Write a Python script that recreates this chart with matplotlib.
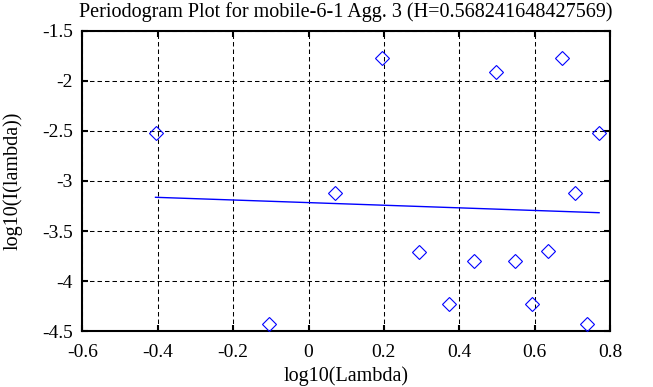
import numpy as np
import matplotlib
matplotlib.use("Agg")
import matplotlib.pyplot as plt

# periodogram points (log10 lambda, log10 I(lambda))
log_lambda = [-0.406, -0.104, 0.071, 0.196, 0.294, 0.372, 0.438, 0.497,
              0.547, 0.594, 0.635, 0.672, 0.708, 0.739, 0.770]
log_intensity = [-2.517, -4.427, -3.117, -1.767, -3.707, -4.23, -3.803, -1.913,
                 -3.803, -4.23, -3.703, -1.767, -3.117, -4.43, -2.517]

# least squares fit line, end points
fit_x = [-0.406, 0.771]
fit_y = [-3.163, -3.317]

title = "Periodogram Plot for mobile-6-1 Agg. 3 (H=0.568241648427569)"
x_ticks = [-0.6, -0.4, -0.2, 0, 0.2, 0.4, 0.6, 0.8]
x_tick_labels = ["-0.6", "-0.4", "-0.2", "0", "0.2", "0.4", "0.6", "0.8"]
y_ticks = [-4.5, -4, -3.5, -3, -2.5, -2, -1.5]
y_tick_labels = ["-4.5", "-4", "-3.5", "-3", "-2.5", "-2", "-1.5"]

plt.rcParams["font.family"] = ["Liberation Serif", "DejaVu Serif"]

fig = plt.figure(figsize=(6.53, 3.87), dpi=100)
ax = fig.add_axes([0.1262, 0.1447, 0.808, 0.7752])

ax.plot(log_lambda, log_intensity, linestyle="none", marker="D",
        markersize=7, markerfacecolor="none", markeredgecolor="blue",
        markeredgewidth=0.8, zorder=3)
ax.plot(fit_x, fit_y, color="blue", linewidth=1.0, zorder=3)

ax.set_xlim(-0.6, 0.8)
ax.set_ylim(-4.5, -1.5)
ax.set_xticks(x_ticks)
ax.set_xticklabels(x_tick_labels)
ax.set_yticks(y_ticks)
ax.set_yticklabels(y_tick_labels)

ax.grid(True, color="black", linestyle=(0, (4.3, 2.9)), linewidth=0.75)
ax.tick_params(direction="in", length=4.5, width=1.5, top=True, right=True,
               labelsize=14)
ax.tick_params(axis="x", pad=9)
ax.tick_params(axis="y", pad=7)
for spine in ax.spines.values():
    spine.set_linewidth(1.5)

ax.set_title(title, fontsize=14.5, pad=10)
ax.set_xlabel("log10(Lambda)", fontsize=14.5, labelpad=4)
ax.set_ylabel("log10(I(lambda))", fontsize=14.5, labelpad=14)

fig.savefig("out.png", dpi=100)
